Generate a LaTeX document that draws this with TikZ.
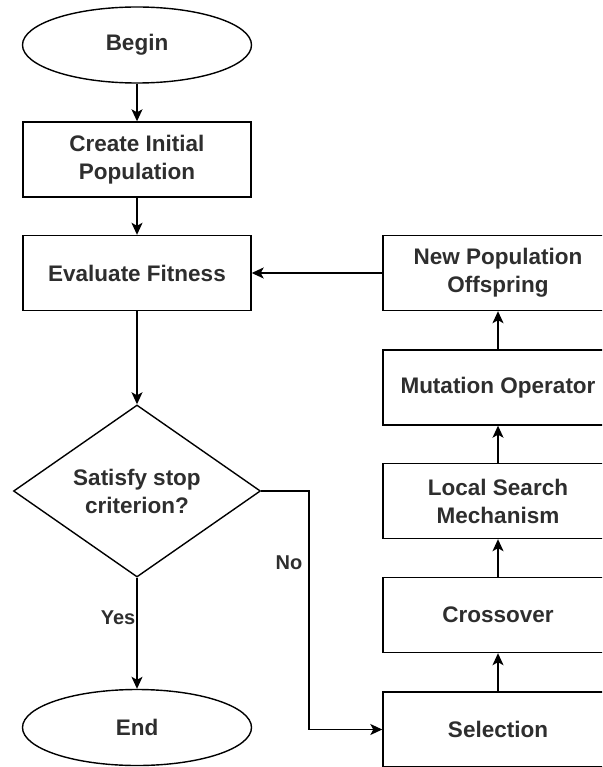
\documentclass[tikz,border=0pt]{standalone}
\usepackage{fontspec}
\setmainfont{Liberation Sans}
\usetikzlibrary{shapes.geometric,arrows.meta}
\begin{document}
\begin{tikzpicture}[x=1pt,y=-1pt,
  every node/.style={font=\fontsize{22.5}{28}\selectfont\bfseries, text=black!82, align=center},
  box/.style={draw, line width=1.4pt, rectangle, minimum width=228pt, minimum height=75pt, inner sep=0pt},
  term/.style={draw, line width=1.4pt, ellipse, minimum width=229pt, minimum height=76pt, inner sep=0pt},
  dec/.style={draw, line width=1.4pt, diamond, minimum width=247pt, minimum height=168pt, inner sep=0pt},
  conn/.style={line width=1.4pt, -{Stealth[length=12pt,width=11pt,inset=3pt]}},
  lbl/.style={font=\fontsize{20}{22}\selectfont\bfseries, inner sep=0pt}
]
\useasboundingbox (0,0) rectangle (602,767);
\clip (0,0) rectangle (602,767);
\fill[white] (0,0) rectangle (602,767);

\node[term] (begin) at (137,45) {Begin};
\node[box] (create) at (137,159.5) {Create Initial\\Population};
\node[box] (eval) at (137,273) {Evaluate Fitness};
\node[dec] (dec) at (137,491) {Satisfy stop\\criterion?};
\node[term] (end) at (137,727.5) {End};

\node[box, minimum width=230pt] (newpop) at (498,273) {New Population\\Offspring};
\node[box, minimum width=230pt] (mut) at (498,387.5) {Mutation Operator};
\node[box, minimum width=230pt] (local) at (498,501) {Local Search\\Mechanism};
\node[box, minimum width=230pt] (cross) at (498,615) {Crossover};
\node[box, minimum width=230pt] (sel) at (498,729.5) {Selection};

\coordinate (bend1) at (309,491);
\coordinate (bend2) at (309,729.5);

\draw[conn] (begin) -- (create);
\draw[conn] (create) -- (eval);
\draw[conn] (eval) -- (dec);
\draw[conn] (dec.south) -- node[pos=0.36, lbl, anchor=east, xshift=-1pt] (yes) {Yes} (end.north);
\draw[conn] (dec.east) -- (bend1) -- node[pos=0.3, lbl, anchor=east, xshift=-6pt] (no) {No} (bend2) -- (sel.west);
\draw[conn] (sel) -- (cross);
\draw[conn] (cross) -- (local);
\draw[conn] (local) -- (mut);
\draw[conn] (mut) -- (newpop);
\draw[conn] (newpop.west) -- (eval.east);
\end{tikzpicture}
\end{document}
